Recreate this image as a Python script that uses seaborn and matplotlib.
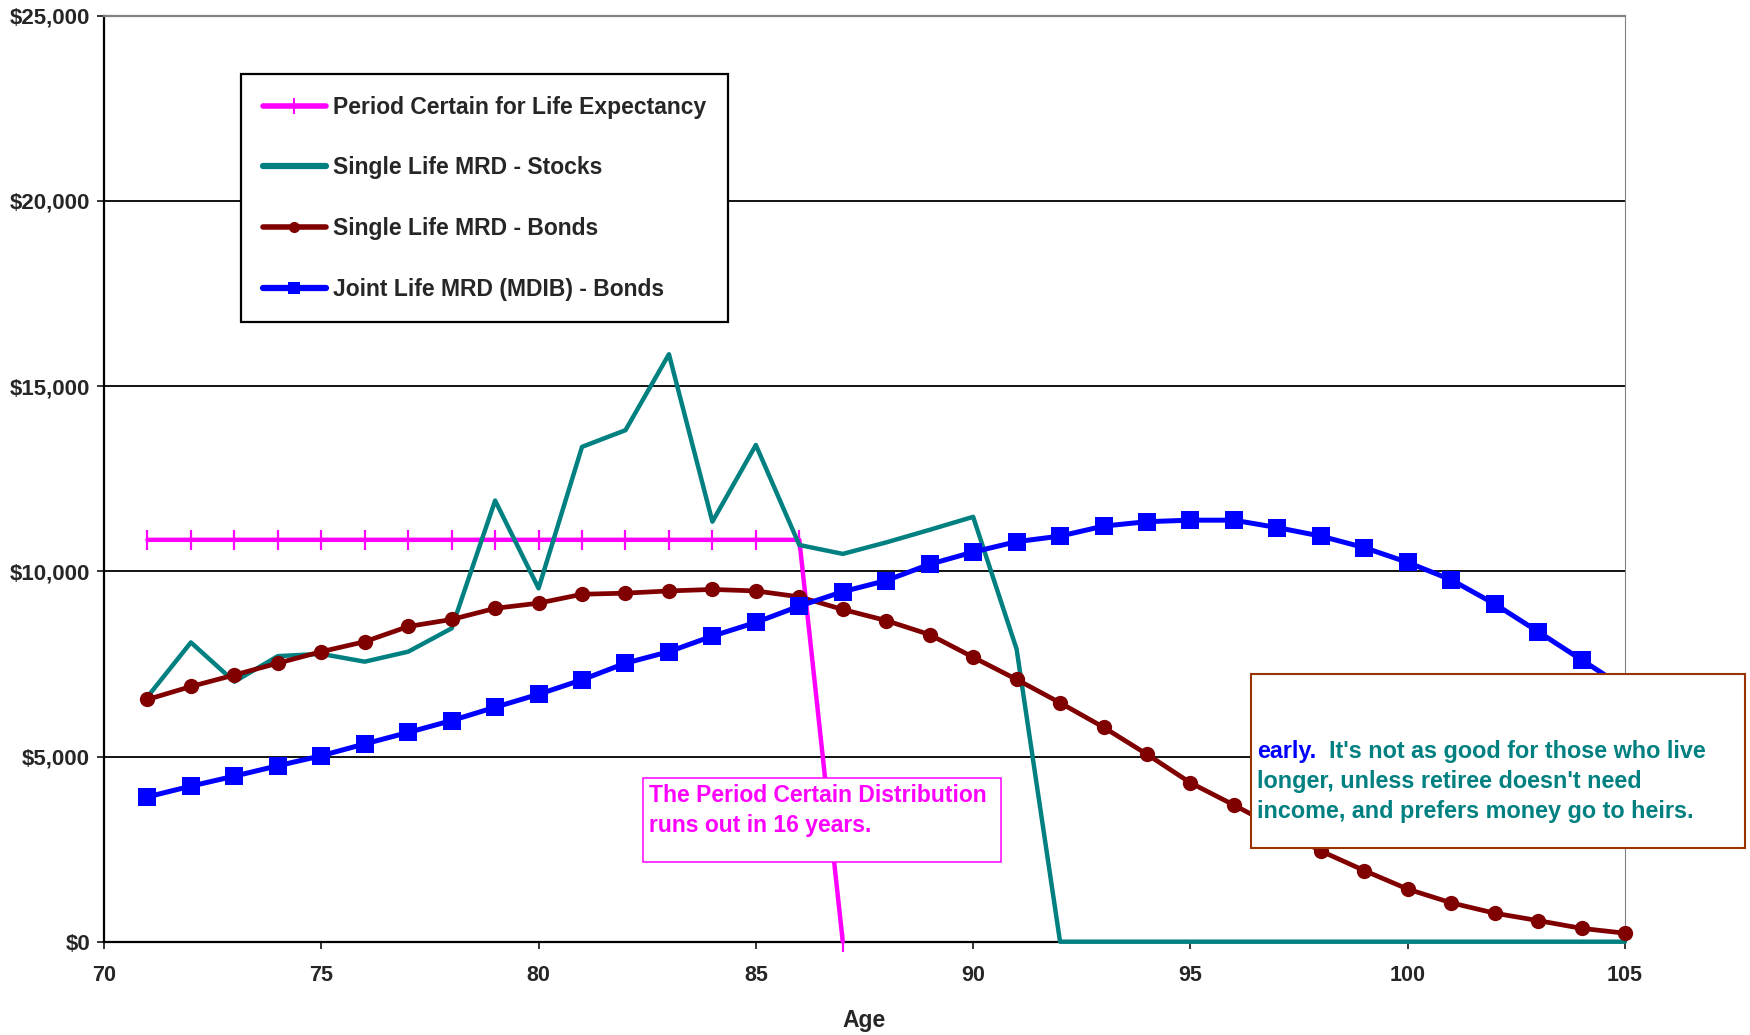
import matplotlib
matplotlib.use("Agg")
import matplotlib.pyplot as plt
import seaborn as sns
import pandas as pd
from matplotlib.lines import Line2D
from matplotlib.patches import Rectangle
from matplotlib.ticker import StrMethodFormatter

# ---------------- data ----------------
ages = list(range(71, 106))
period_ages = list(range(71, 88))
period_vals = [10850, 10850, 10850, 10850, 10850, 10850, 10850, 10850,
               10850, 10850, 10850, 10850, 10850, 10850, 10850, 10850, 0]
stocks_vals = [6610, 8080, 7020, 7710, 7770, 7560, 7830, 8460, 11910, 9540,
               13360, 13810, 15860, 11340, 13410, 10710, 10470, 10780, 11120,
               11470, 7900, 0, 0, 0, 0, 0, 0, 0, 0, 0, 0, 0, 0, 0, 0]
bonds_vals = [6540, 6890, 7200, 7520, 7830, 8100, 8510, 8700, 9000, 9140,
              9380, 9410, 9470, 9510, 9470, 9310, 8970, 8670, 8290, 7680,
              7080, 6450, 5790, 5060, 4290, 3690, 3070, 2450, 1920, 1420,
              1050, 770, 570, 360, 230]
joint_vals = [3910, 4200, 4470, 4750, 5020, 5340, 5650, 5970, 6330, 6680,
              7070, 7520, 7830, 8250, 8620, 9060, 9450, 9750, 10190, 10520,
              10800, 10950, 11220, 11340, 11380, 11380, 11180, 10950, 10640,
              10240, 9770, 9120, 8370, 7610, 6850]

series_names = ["Period Certain for Life Expectancy",
                "Single Life MRD - Stocks",
                "Single Life MRD - Bonds",
                "Joint Life MRD (MDIB) - Bonds"]
colors = ["#FF00FF", "#008080", "#800000", "#0000FF"]
x_ticks = [70, 75, 80, 85, 90, 95, 100, 105]
y_ticks = [0, 5000, 10000, 15000, 20000, 25000]

box1_lines = ["The Period Certain Distribution", "runs out in 16 years."]
box2_first = "early."
box2_rest = ["  It's not as good for those who live",
             "longer, unless retiree doesn't need",
             "income, and prefers money go to heirs."]

# ---------------- style ----------------
sns.set_style("white")
plt.rcParams['font.family'] = ['Liberation Sans', 'DejaVu Sans']
plt.rcParams['font.weight'] = 'bold'

W, H = 1750, 1035
fig = plt.figure(figsize=(W / 100, H / 100), dpi=100)
fig.patch.set_facecolor("white")
ax = fig.add_axes([104 / W, 1 - 941.7 / H, (1625 - 104) / W, (941.7 - 15.7) / H])

df_p = pd.DataFrame({"Age": period_ages, "Value": period_vals})
df_s = pd.DataFrame({"Age": ages, "Value": stocks_vals})
df_b = pd.DataFrame({"Age": ages, "Value": bonds_vals})
df_j = pd.DataFrame({"Age": ages, "Value": joint_vals})

sns.lineplot(data=df_p, x="Age", y="Value", ax=ax, color=colors[0],
             linewidth=3.2, marker="|", markersize=14, markeredgewidth=1.6,
             markeredgecolor=colors[0], clip_on=False, zorder=3)
sns.lineplot(data=df_s, x="Age", y="Value", ax=ax, color=colors[1],
             linewidth=3.2, clip_on=False, zorder=3)
sns.lineplot(data=df_b, x="Age", y="Value", ax=ax, color=colors[2],
             linewidth=3.4, marker="o", markersize=11, markeredgewidth=0,
             clip_on=False, zorder=4)
sns.lineplot(data=df_j, x="Age", y="Value", ax=ax, color=colors[3],
             linewidth=3.6, marker="s", markersize=12.5, markeredgewidth=0,
             clip_on=False, zorder=5)

ax.set_xlim(x_ticks[0], x_ticks[-1])
ax.set_ylim(y_ticks[0], y_ticks[-1])
ax.set_xticks(x_ticks)
ax.set_yticks(y_ticks)
ax.yaxis.set_major_formatter(StrMethodFormatter("${x:,.0f}"))

# grid lines (inner only)
ax.grid(axis="y", color="black", linewidth=1.3)
for loc, gl in zip(ax.get_yticks(), ax.yaxis.get_gridlines()):
    if loc in (y_ticks[0], y_ticks[-1]):
        gl.set_visible(False)
ax.set_axisbelow(True)

for side in ["left", "bottom"]:
    ax.spines[side].set_color("black")
    ax.spines[side].set_linewidth(1.6)
ax.spines["top"].set_color("#808080")
ax.spines["top"].set_linewidth(1.6)
ax.spines["right"].set_color("#808080")
ax.spines["right"].set_linewidth(0.8)

ax.tick_params(axis="y", direction="out", length=5, width=1.3, pad=5,
               labelsize=16, left=True)
ax.tick_params(axis="x", direction="out", length=5, width=1.3, pad=12,
               labelsize=15.5, bottom=True)
for lab in ax.get_xticklabels() + ax.get_yticklabels():
    lab.set_fontweight("bold")

ax.set_xlabel("Age", fontsize=16.5, fontweight="bold", labelpad=16)
ax.set_ylabel("")

# ---------------- legend ----------------
handles = [
    Line2D([], [], color=colors[0], lw=4, marker="|", markersize=12, mew=1.5),
    Line2D([], [], color=colors[1], lw=4.5),
    Line2D([], [], color=colors[2], lw=4, marker="o", markersize=8, mew=0),
    Line2D([], [], color=colors[3], lw=4.5, marker="s", markersize=9, mew=0),
]
leg = ax.legend(handles, series_names, loc="upper left",
                bbox_to_anchor=(241 / W, 1 - 74 / H), bbox_transform=fig.transFigure,
                borderaxespad=0, frameon=True, fancybox=False, framealpha=1,
                edgecolor="black", borderpad=0.95, labelspacing=1.64,
                handlelength=2.75, handletextpad=0.3,
                prop={"size": 16.5, "weight": "bold"})
leg.get_frame().set_linewidth(1.6)
leg.set_zorder(10)

# ---------------- text boxes ----------------
fig.add_artist(Rectangle((643 / W, 1 - 862 / H), (1001 - 643) / W, (862 - 778) / H,
                         transform=fig.transFigure, facecolor="white",
                         edgecolor="#FF00FF", linewidth=1.1, zorder=5))
for i, line in enumerate(box1_lines):
    fig.text(649 / W, 1 - (801.7 + 30 * i) / H, line, color="#FF00FF",
             fontsize=16.5, fontweight="bold", va="baseline", ha="left", zorder=6)

fig.add_artist(Rectangle((1251 / W, 1 - 848 / H), (1745 - 1251) / W, (848 - 674) / H,
                         transform=fig.transFigure, facecolor="white",
                         edgecolor="#993300", linewidth=1.5, zorder=5))
t_blue = fig.text(1257 / W, 1 - 758 / H, box2_first, color="#0000FF",
                  fontsize=16.8, fontweight="bold", va="baseline", ha="left", zorder=6)
fig.canvas.draw()
bb = t_blue.get_window_extent()
fig.text(bb.x1 / W, 1 - 758 / H, box2_rest[0], color="#008080",
         fontsize=16.8, fontweight="bold", va="baseline", ha="left", zorder=6)
for i, line in enumerate(box2_rest[1:], start=1):
    fig.text(1257 / W, 1 - (758 + 30 * i) / H, line, color="#008080",
             fontsize=16.8, fontweight="bold", va="baseline", ha="left", zorder=6)

fig.savefig("out.png", dpi=100, facecolor="white")
